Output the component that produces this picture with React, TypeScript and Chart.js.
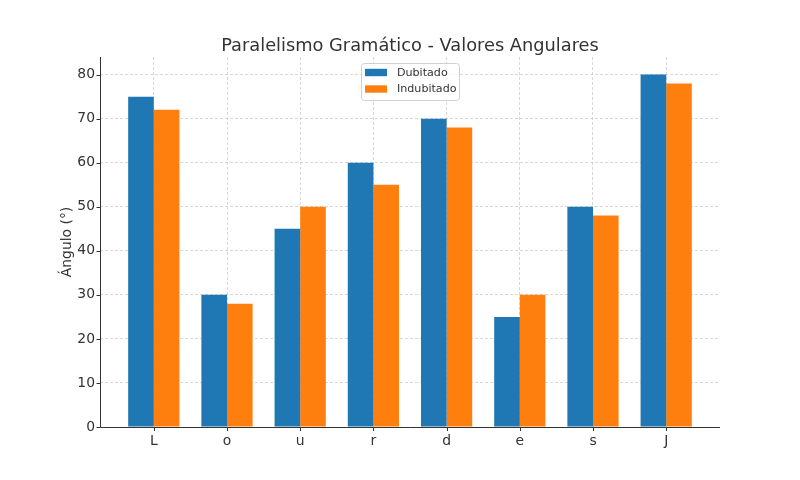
import React, { useEffect, useRef } from "react";
import { Chart, registerables } from "chart.js";

Chart.register(...registerables);

const categories = ["L", "o", "u", "r", "d", "e", "s", "J"];
const dubitado = [75, 30, 45, 60, 70, 25, 50, 80];
const indubitado = [72, 28, 50, 55, 68, 30, 48, 78];
const yTicks = [0, 10, 20, 30, 40, 50, 60, 70, 80];
const titleText = "Paralelismo Gramático - Valores Angulares";
const yLabel = "Ángulo (°)";
const seriesNames = ["Dubitado", "Indubitado"];
const colors = ["#1f77b4", "#ff7f0e"];

const FONT = "'DejaVu Sans', sans-serif";

const decorPlugin = {
  id: "decor",
  afterDraw(chart: any) {
    const ctx = chart.ctx;
    const a = chart.chartArea;
    const xs = chart.scales.x;
    const ys = chart.scales.y;
    ctx.save();
    // spines
    ctx.strokeStyle = "#333333";
    ctx.lineWidth = 1;
    ctx.beginPath();
    ctx.moveTo(a.left + 0.5, a.top);
    ctx.lineTo(a.left + 0.5, a.bottom + 0.5);
    ctx.lineTo(a.right, a.bottom + 0.5);
    ctx.stroke();
    // tick marks
    ctx.beginPath();
    yTicks.forEach((v) => {
      const y = Math.round(ys.getPixelForValue(v)) + 0.5;
      ctx.moveTo(a.left - 3.5, y);
      ctx.lineTo(a.left, y);
    });
    categories.forEach((_, i) => {
      const x = Math.round(xs.getPixelForValue(i)) + 0.5;
      ctx.moveTo(x, a.bottom);
      ctx.lineTo(x, a.bottom + 4);
    });
    ctx.stroke();
    // title
    ctx.fillStyle = "#333333";
    ctx.font = `17.8px ${FONT}`;
    ctx.textAlign = "center";
    ctx.textBaseline = "alphabetic";
    ctx.fillText(titleText, (a.left + a.right) / 2, 51);
    // y label
    ctx.save();
    ctx.translate(67, (a.top + a.bottom) / 2);
    ctx.rotate(-Math.PI / 2);
    ctx.font = `13.9px ${FONT}`;
    ctx.textAlign = "center";
    ctx.textBaseline = "middle";
    ctx.fillText(yLabel, 0, 0);
    ctx.restore();
    // legend
    const lx = 361, ly = 63, lw = 98, lh = 37;
    ctx.fillStyle = "rgba(255,255,255,0.8)";
    ctx.strokeStyle = "#d0d0d0";
    ctx.lineWidth = 1;
    ctx.beginPath();
    (ctx as any).roundRect(lx + 0.5, ly + 0.5, lw, lh, 3);
    ctx.fill();
    ctx.stroke();
    ctx.font = `11.1px ${FONT}`;
    ctx.textAlign = "left";
    ctx.textBaseline = "middle";
    seriesNames.forEach((name, i) => {
      const cy = ly + 9.5 + i * 16.5;
      ctx.fillStyle = colors[i];
      ctx.fillRect(lx + 4, cy - 3.7, 22, 7.4);
      ctx.fillStyle = "#333333";
      ctx.fillText(name, lx + 36, cy + 0.5);
    });
    ctx.restore();
  },
};

export default function App() {
  const ref = useRef<HTMLCanvasElement | null>(null);
  useEffect(() => {
    if (!ref.current) return;
    const chart = new Chart(ref.current, {
      type: "bar",
      data: {
        datasets: [
          {
            label: seriesNames[0],
            data: dubitado.map((v, i) => ({ x: i, y: v })),
            backgroundColor: colors[0],
            borderWidth: 0,
          },
          {
            label: seriesNames[1],
            data: indubitado.map((v, i) => ({ x: i, y: v })),
            backgroundColor: colors[1],
            borderWidth: 0,
          },
        ],
      },
      plugins: [decorPlugin],
      options: {
        animation: false,
        responsive: false,
        devicePixelRatio: 1,
        layout: { padding: { left: 0, right: 80, top: 57, bottom: 0 } },
        datasets: { bar: { categoryPercentage: 0.7, barPercentage: 1.0 } },
        plugins: {
          legend: { display: false },
          title: { display: false },
          tooltip: { enabled: false },
        },
        scales: {
          x: {
            type: "linear",
            offset: false,
            min: -0.735,
            max: 7.735,
            afterBuildTicks: (s: any) => {
              s.ticks = categories.map((_, i) => ({ value: i }));
            },
            afterFit: (s: any) => {
              s.height = 53;
            },
            grid: {
              offset: false,
              color: "rgba(190,190,190,0.75)",
              lineWidth: 0.8,
              drawTicks: false,
            },
            border: { display: false, dash: [3, 2] },
            ticks: {
              padding: 6,
              color: "#333333",
              font: { family: FONT, size: 13.9 },
              callback: (v: any) => categories[Math.round(Number(v))] ?? "",
              maxRotation: 0,
              autoSkip: false,
            },
          },
          y: {
            min: 0,
            max: 84,
            afterBuildTicks: (s: any) => {
              s.ticks = yTicks.map((v) => ({ value: v }));
            },
            afterFit: (s: any) => {
              s.width = 100;
            },
            grid: {
              offset: false,
              color: "rgba(190,190,190,0.75)",
              lineWidth: 0.8,
              drawTicks: false,
            },
            border: { display: false, dash: [3, 2] },
            ticks: {
              padding: 5,
              color: "#333333",
              font: { family: FONT, size: 13.9 },
            },
          },
        },
      } as any,
    });
    return () => chart.destroy();
  }, []);
  return (
    <div style={{ position: "fixed", left: 0, top: 0, width: 800, height: 480, background: "#fff" }}>
      <canvas ref={ref} width={800} height={480} style={{ width: 800, height: 480 }} />
    </div>
  );
}
